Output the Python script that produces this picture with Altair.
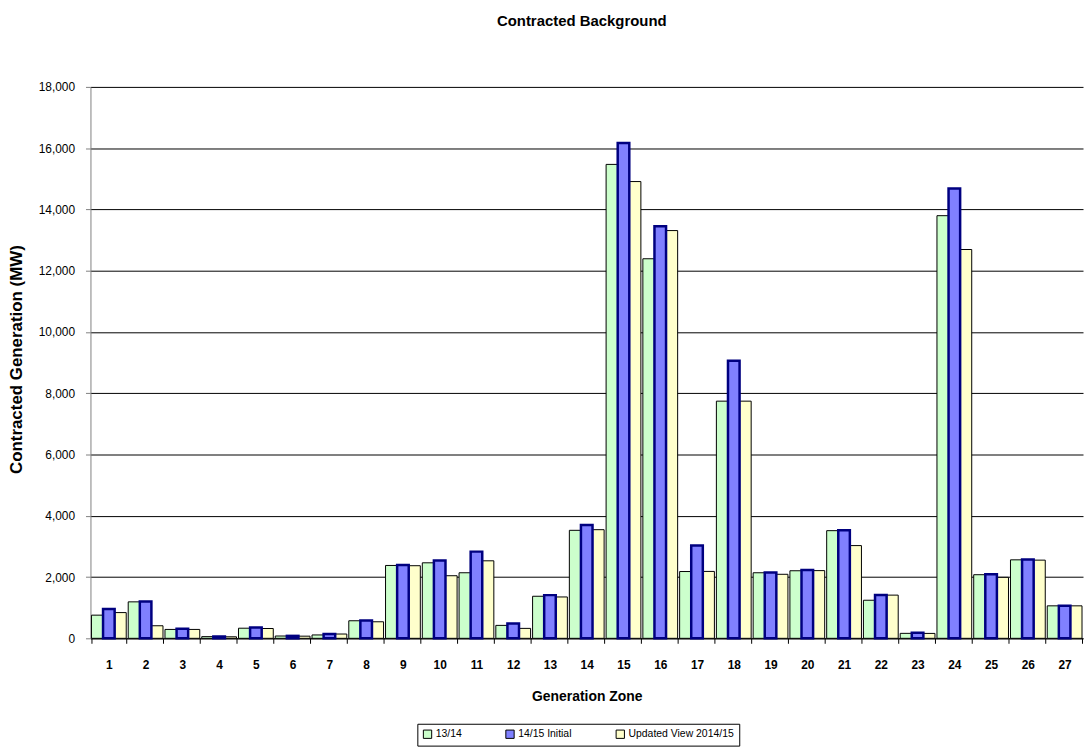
import altair as alt
import pandas as pd

zones = list(range(1, 28))
series_names = ["13/14", "14/15 Initial", "Updated View 2014/15"]
s_1314 = [756, 1190, 290, 55, 330, 75, 110, 573, 2378, 2465, 2140, 422, 1373, 3525,
          15470, 12390, 2180, 7742, 2140, 2205, 3514, 1243, 162, 13796, 2076, 2562, 1060]
s_1415 = [960, 1200, 310, 60, 350, 80, 140, 585, 2390, 2540, 2830, 480, 1410, 3700,
          16170, 13450, 3030, 9060, 2150, 2230, 3530, 1415, 180, 14680, 2090, 2570, 1065]
s_upd = [840, 410, 290, 50, 320, 70, 140, 540, 2370, 2043, 2530, 324, 1350, 3546,
         14910, 13310, 2184, 7742, 2090, 2210, 3027, 1410, 160, 12692, 1990, 2552, 1060]
y_ticks = list(range(0, 18001, 2000))

fills = ["#CCFFCC", "#8080FF", "#FFFFCC"]

rows = []
for name, vals in [(series_names[0], s_1314), (series_names[1], s_1415), (series_names[2], s_upd)]:
    for z, v in zip(zones, vals):
        rows.append({"zone": z, "series": name, "value": v})
df = pd.DataFrame(rows)

FONT = "Liberation Sans"

x_enc = alt.X("zone:O",
              scale=alt.Scale(paddingInner=0.054, paddingOuter=0.027),
              axis=alt.Axis(title="Generation Zone", labelAngle=0, labelFontWeight="bold",
                            labelFontSize=12, labelColor="black", tickBand="extent", tickSize=5,
                            labelPadding=16, titleFontSize=14, titleFontWeight="bold",
                            titleColor="black", titleY=59, titleBaseline="middle",
                            domainColor="black", tickColor="black", grid=False))
xo_enc = alt.XOffset("series:N", sort=series_names,
                     scale=alt.Scale(domain=series_names, paddingInner=0, paddingOuter=0))
y_enc = alt.Y("value:Q",
              scale=alt.Scale(domain=[0, 18000], nice=False),
              axis=alt.Axis(values=y_ticks, format=",.0f", title="Contracted Generation (MW)",
                            labelFontSize=12, labelColor="black", labelPadding=11, tickSize=5,
                            tickColor="#808080", domainColor="#808080",
                            titleFontSize=17, titleFontWeight="bold", titleColor="black",
                            titleX=-74, titleY=274, titleBaseline="middle",
                            grid=True, gridColor="#000000", gridWidth=1))
fill_enc = alt.Fill("series:N", sort=series_names,
                    scale=alt.Scale(domain=series_names, range=fills),
                    legend=alt.Legend(title=None))

base = alt.Chart(df).encode(x=x_enc, xOffset=xo_enc, y=y_enc, fill=fill_enc)

thin = base.transform_filter(
    alt.datum.series != series_names[1]
).mark_bar(stroke="#000000", strokeWidth=1)
thick = base.transform_filter(
    alt.datum.series == series_names[1]
).mark_bar(stroke="#000080", strokeWidth=2.5)

chart = alt.layer(thin, thick).properties(
    width=999,
    height=555,
    title=alt.Title("Contracted Background", fontSize=15, fontWeight="bold", font=FONT,
                    color="black", anchor="middle", frame="group", dx=-5, offset=52),
    autosize=alt.AutoSizeParams(type="none"),
    padding={"left": 83, "top": 77, "right": 1, "bottom": 110},
).configure(
    font=FONT,
).configure_view(
    stroke=None,
).configure_axis(
    labelFont=FONT, titleFont=FONT,
).configure_legend(
    orient="none", legendX=329, legendY=641, direction="horizontal",
    strokeColor="black", padding=5, symbolType="square", symbolSize=70,
    symbolStrokeColor="black", symbolStrokeWidth=1,
    labelFontSize=10.5, labelFont=FONT, labelColor="black", columnPadding=42,
    labelOffset=3,
)

chart.save("out.html", embed_options={"renderer": "svg", "actions": False})
